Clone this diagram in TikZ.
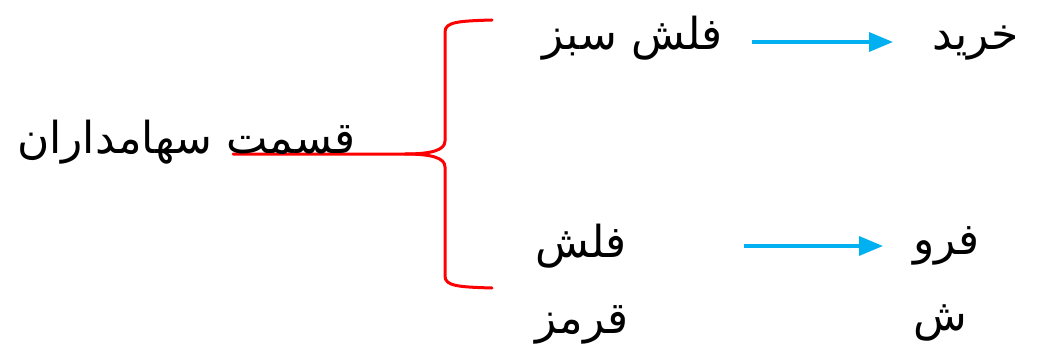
\documentclass[tikz,border=0pt]{standalone}
\usepackage{fontspec}
\usetikzlibrary{arrows.meta}
\TeXXeTstate=1
\newfontfamily\arabicfont[Script=Arabic]{DejaVu Sans}
\definecolor{braceRed}{RGB}{255,0,0}
\definecolor{arrCyan}{RGB}{0,176,240}
\tikzset{
  txt/.style={inner sep=0pt, font=\arabicfont\fontsize{44}{76}\selectfont, align=left},
  bracepath/.style={draw=braceRed, line width=3pt, line cap=round, line join=round},
  arr/.style={draw=arrCyan, line width=3.5pt, -{Triangle[length=24pt,width=19pt]}}
}
\begin{document}
\begin{tikzpicture}[x=1pt,y=-1pt]
\useasboundingbox (0,0) rectangle (1063,361);
% brace
\draw[bracepath] (492,20) .. controls (458,21) and (445,22) .. (445,32) -- (445,141)
  .. controls (445,150) and (432,154) .. (405,154) -- (233,154);
\draw[bracepath] (405,154) .. controls (432,154) and (445,158) .. (445,167) -- (445,276)
  .. controls (445,286) and (458,287) .. (492,288);
% texts
\node[txt, anchor=base west] (sh) at (17,153) {\beginR قسمت سهامداران\endR};
\node[txt, anchor=base east] (gf) at (723,50) {\beginR فلش سبز\endR};
\node[txt, anchor=base west] (buy) at (932,50) {\beginR خرید\endR};
\node[txt, anchor=base west] (rf) at (535,333) {\beginR فلش\endR\\\beginR قرمز\endR};
\node[txt, anchor=base west] (sell) at (913,330) {\beginR فرو\endR\\\beginR ش\endR};
\coordinate (y1) at (0,42);
\coordinate (y2) at (0,246);
\draw[arr, shorten <=29pt, shorten >=39pt] (gf.east |- y1) -- (buy.west |- y1);
\draw[arr, shorten <=115pt, shorten >=30pt] (rf.east |- y2) -- (sell.west |- y2);
\end{tikzpicture}
\end{document}
